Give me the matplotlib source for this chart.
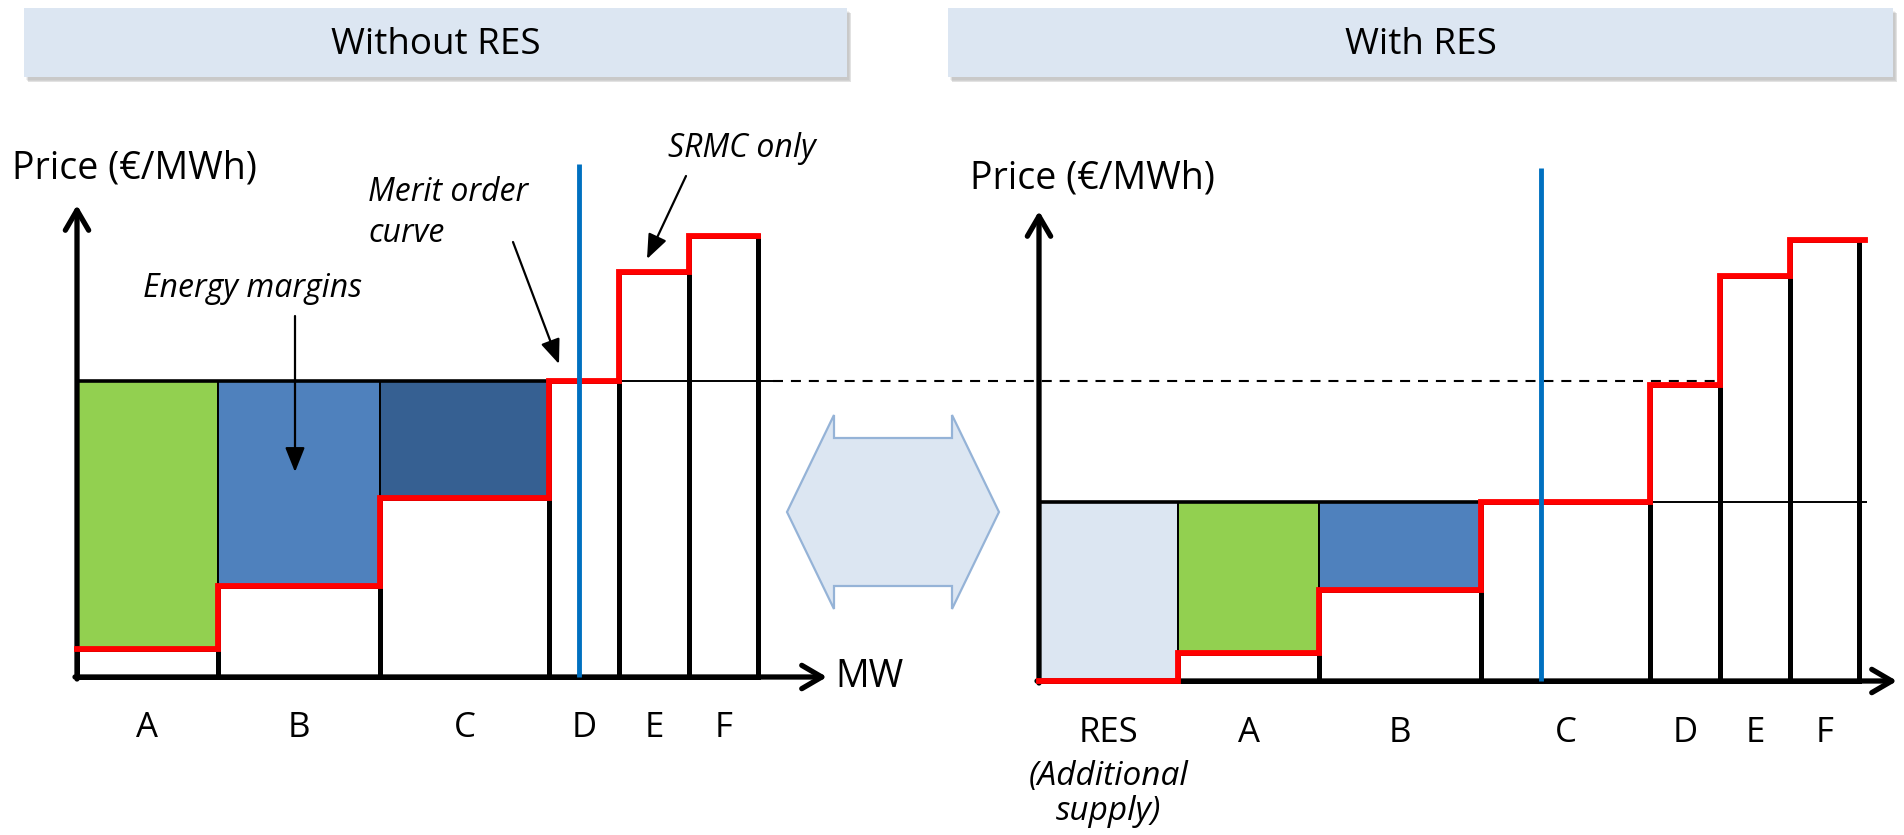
import numpy as np
import matplotlib
matplotlib.use("Agg")
import matplotlib.pyplot as plt
from matplotlib.patches import Rectangle, Polygon

# ---------------- data ----------------
plants = ["A", "B", "C", "D", "E", "F"]
capacity_mw = [141, 162, 169, 70, 70, 69]          # MW per plant (merit order)
srmc = [28, 91, 179, 296, 405, 441]                 # short-run marginal cost
res_name = "RES"
res_capacity_mw = 139
res_srmc = 0
demand_mw = 502
margin_colors = {"RES": "#dce6f2", "A": "#92d050", "B": "#4f81bd", "C": "#366092"}
panel_titles = ["Without RES", "With RES"]
y_label = "Price (€/MWh)"
x_label = "MW"

# ---------------- style ----------------
FONT = ["Open Sans", "DejaVu Sans"]
plt.rcParams["font.family"] = FONT
BLACK = "#000000"
RED = "#ff0000"
DEMAND_BLUE = "#0070c0"
HEADER_FILL = "#dce6f2"
ARROW_EDGE = "#95b3d7"

W, H = 1904, 835
fig = plt.figure(figsize=(W / 100, H / 100), dpi=100)

# overlay in pixel coordinates for decorations
ov = fig.add_axes([0, 0, 1, 1], zorder=0)
ov.set_xlim(0, W)
ov.set_ylim(H, 0)
ov.axis("off")

# headers
for (x0, x1), title in zip([(24, 847), (948, 1893)], panel_titles):
    for k, a in enumerate([0.10, 0.16, 0.22]):
        ov.add_patch(Rectangle((x0 + 2 + k, 8 + 3 + k), x1 - x0, 69, facecolor="#7f7f7f",
                               edgecolor="none", alpha=a, zorder=1))
    ov.add_patch(Rectangle((x0, 8), x1 - x0, 69, facecolor=HEADER_FILL, edgecolor="none", zorder=2))
    ov.text((x0 + x1) / 2, 54, title, ha="center", va="baseline", fontsize=26.5, zorder=3)

# double arrow in the middle
cx, cy, hw, hd, hh, sh = 893, 512, 106, 47, 97, 74
verts = [(cx - hw, cy), (cx - hw + hd, cy - hh), (cx - hw + hd, cy - sh), (cx + hw - hd, cy - sh),
         (cx + hw - hd, cy - hh), (cx + hw, cy), (cx + hw - hd, cy + hh), (cx + hw - hd, cy + sh),
         (cx - hw + hd, cy + sh), (cx - hw + hd, cy + hh)]
ov.add_patch(Polygon(verts, closed=True, facecolor=HEADER_FILL, edgecolor=ARROW_EDGE, lw=1.6, zorder=2))


def make_axes(left_px, width_px, origin_x_px, origin_y_px):
    ax = fig.add_axes([left_px / W, 0, width_px / W, 1], zorder=2)
    ax.set_xlim(left_px - origin_x_px, left_px + width_px - origin_x_px)
    ax.set_ylim(-(H - origin_y_px), origin_y_px)
    ax.axis("off")
    ax.patch.set_alpha(0)
    return ax


def axis_arrows(ax, xmax, ymax):
    props = dict(arrowstyle="->,head_length=0.72,head_width=0.42", lw=3.8, color=BLACK,
                 shrinkA=0, shrinkB=0, mutation_scale=20, capstyle="round", joinstyle="round")
    ax.annotate("", xy=(0, ymax), xytext=(0, -2), arrowprops=props, zorder=6)
    ax.annotate("", xy=(xmax, 0), xytext=(-2, 0), arrowprops=props, zorder=6)


def draw_panel(ax, names, caps, costs, xmax, ymax, label_y, line_ext, red_ext, ylab_xy):
    caps = np.asarray(caps, float)
    costs = np.asarray(costs, float)
    edges = np.r_[0, np.cumsum(caps)]
    lefts = edges[:-1]
    centers = lefts + caps / 2
    idx = int(np.searchsorted(edges[1:], demand_mw))
    price = costs[idx]

    # energy margins
    for i, n in enumerate(names):
        if costs[i] < price:
            ax.bar(lefts[i], price - costs[i], width=caps[i], bottom=costs[i], align="edge",
                   color=margin_colors[n], edgecolor=BLACK, lw=1.4, zorder=2)
    # plants (SRMC blocks)
    ax.bar(lefts, costs, width=caps, align="edge", facecolor="white", edgecolor=BLACK,
           lw=3.6, zorder=3)
    # price level line
    n_marg = int(np.sum(costs < price))
    ax.plot([0, edges[n_marg]], [price, price], color=BLACK, lw=2.6, zorder=4,
            solid_capstyle="butt")
    ax.plot([edges[n_marg], edges[-1] + line_ext], [price, price], color=BLACK, lw=1.4, zorder=4,
            solid_capstyle="butt")
    # merit order curve
    ax.step(np.r_[edges[:-1], edges[-1] + red_ext], np.r_[costs, costs[-1]], where="post",
            color=RED, lw=4.2, zorder=7, solid_joinstyle="miter")
    axis_arrows(ax, xmax, ymax)
    # demand line
    ax.plot([demand_mw, demand_mw], [0, 513], color=DEMAND_BLUE, lw=3.5, zorder=8,
            solid_capstyle="butt")
    for c, n in zip(centers, names):
        ax.text(c, label_y, n, ha="center", va="baseline", fontsize=25)
    ax.text(ylab_xy[0], ylab_xy[1], y_label, ha="left", va="baseline", fontsize=27)
    return edges, price


# ---------------- left panel: without RES ----------------
axL = make_axes(0, 952, 77, 677)
edgesL, priceL = draw_panel(axL, plants, capacity_mw, srmc, 750, 472, -60, 15, 0, (-65, 498))
axL.text(758, 0, x_label, ha="left", va="center", fontsize=27)

ann_props = dict(arrowstyle="-|>,head_length=0.75,head_width=0.3", lw=1.6, color=BLACK,
                 shrinkA=0, shrinkB=0, mutation_scale=20)
IT = 23
axL.text(66, 380, "Energy margins", style="italic", fontsize=IT, ha="left", va="baseline")
axL.annotate("", xy=(218, 205), xytext=(218, 361), arrowprops=ann_props, zorder=9)
axL.text(291, 476, "Merit order", style="italic", fontsize=IT, ha="left", va="baseline")
axL.text(291, 435, "curve", style="italic", fontsize=IT, ha="left", va="baseline")
axL.annotate("", xy=(482, 313), xytext=(436, 435), arrowprops=ann_props, zorder=9)
axL.text(591, 520, "SRMC only", style="italic", fontsize=IT, ha="left", va="baseline")
axL.annotate("", xy=(570, 418), xytext=(609, 501), arrowprops=ann_props, zorder=9)

# ---------------- right panel: with RES ----------------
axR = make_axes(952, 952, 1039, 681)
namesR = [res_name] + plants
capsR = [res_capacity_mw] + capacity_mw
costsR = [res_srmc] + srmc
edgesR, priceR = draw_panel(axR, namesR, capsR, costsR, 858, 470, -61, 8, 6, (-69, 492))
axR.text(edgesR[0] + res_capacity_mw / 2, -104, "(Additional", style="italic", fontsize=24,
         ha="center", va="baseline")
axR.text(edgesR[0] + res_capacity_mw / 2, -139, "supply)", style="italic", fontsize=24,
         ha="center", va="baseline")

# dashed line: previous clearing price carried across to the RES case
x_end_disp = axR.transData.transform((edgesR[-1] - 7, 0))[0]
x_end_L = axL.transData.inverted().transform((x_end_disp, 0))[0]
axL.plot([edgesL[-1] + 15, x_end_L], [priceL, priceL], color=BLACK, lw=1.5,
         dashes=(4.8, 3.8), clip_on=False, zorder=4)

fig.savefig("out.png", dpi=100, facecolor="white")
